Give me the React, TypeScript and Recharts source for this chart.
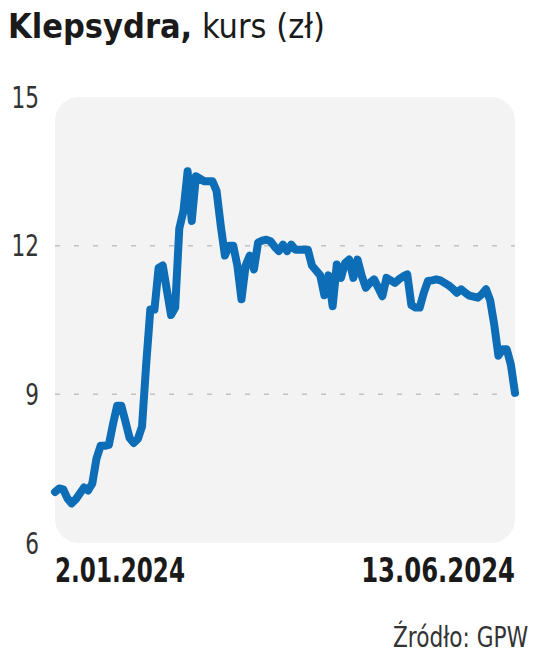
import { LineChart, Line, XAxis, YAxis, ReferenceArea, ReferenceLine } from "recharts";

// daily close, 2.01.2024 .. 13.06.2024
const prices = [
  7.03, 7.1, 7.08, 6.9, 6.8, 6.88, 7.0, 7.12, 7.06, 7.2,
  7.7, 7.96, 7.96, 7.98, 8.4, 8.77, 8.77, 8.45, 8.12, 8.02,
  8.1, 8.35, 9.6, 10.71, 10.71, 11.55, 11.6, 11.1, 10.6, 10.75,
  12.35, 12.7, 13.5, 12.5, 13.4, 13.35, 13.3, 13.3, 13.3, 13.1,
  12.4, 11.8, 12.0, 12.0, 11.6, 10.92, 11.6, 11.8, 11.52, 12.06,
  12.1, 12.12, 12.09, 11.98, 11.89, 12.02, 11.89, 12.02, 11.92, 11.92,
  11.92, 11.92, 11.6, 11.5, 11.4, 11.0, 11.4, 10.78, 11.62, 11.35,
  11.65, 11.72, 11.35, 11.72, 11.4, 11.15, 11.25, 11.32, 11.15, 10.98,
  11.35, 11.3, 11.25, 11.32, 11.38, 11.42, 10.8, 10.75, 10.75, 11.05,
  11.29, 11.3, 11.32, 11.3, 11.25, 11.2, 11.13, 11.05, 11.12, 11.05,
  10.99, 10.97, 10.95, 11.02, 11.12, 10.9, 10.4, 9.78, 9.91, 9.91,
  9.6, 9.03,
];
const dateLabels = ["2.01.2024", "13.06.2024"];
const yTicks = [6, 9, 12, 15];
const gridValues = [9, 12];

const data = prices.map((v, i) => ({ i, v }));
const lastIdx = prices.length - 1;

const cond = "'DejaVu Sans Condensed', sans-serif";

// the original uses a narrow DIN-like face, so squeeze the glyphs horizontally
const DateTick = (props: any) => {
  const { x, y, payload } = props;
  const first = payload.value === 0;
  const label = first ? dateLabels[0] : dateLabels[1];
  return (
    <g transform={`translate(${x},${y + 39}) scale(${first ? 0.755 : 0.795},1)`}>
      <text
        x={0}
        y={0}
        textAnchor={first ? "start" : "end"}
        fill="#1a1a1a"
        fontSize={34}
        fontWeight="bold"
        fontFamily={cond}
      >
        {label}
      </text>
    </g>
  );
};

const PriceTick = (props: any) => {
  const { x, y, payload } = props;
  return (
    <g transform={`translate(${x},${y}) scale(0.8,1)`}>
      <text x={0} y={0} dy="0.36em" textAnchor="end" fill="#333" fontSize={30} fontFamily={cond}>
        {payload.value}
      </text>
    </g>
  );
};

export default function App() {
  return (
    <div style={{ position: "absolute", left: 0, top: 0, width: 536, height: 659, background: "#fff", overflow: "hidden" }}>
      <div
        style={{
          position: "absolute",
          left: 8,
          top: 9,
          fontFamily: cond,
          fontSize: 34,
          lineHeight: "34px",
          color: "#1a1a1a",
          whiteSpace: "nowrap",
        }}
      >
        <span style={{ fontWeight: "bold" }}>Klepsydra,</span> <span>kurs (zł)</span>
      </div>

      <LineChart
        width={536}
        height={600}
        data={data}
        margin={{ top: 97, right: 21, bottom: 7, left: 10 }}
        style={{ position: "absolute", left: 0, top: 0 }}
      >
        <XAxis
          type="number"
          dataKey="i"
          domain={[0, lastIdx]}
          ticks={[0, lastIdx]}
          axisLine={false}
          tickLine={false}
          tickSize={0}
          tickMargin={0}
          height={50}
          tick={<DateTick />}
          interval={0}
        />
        <YAxis
          domain={[6, 15]}
          ticks={yTicks}
          width={45}
          axisLine={false}
          tickLine={false}
          tickMargin={10}
          tick={<PriceTick />}
          interval={0}
        />
        <ReferenceArea
          x1={0}
          x2={lastIdx}
          y1={6}
          y2={15}
          fill="#f3f3f3"
          fillOpacity={1}
          stroke="none"
          radius={24}
          ifOverflow="visible"
        />
        {gridValues.map((g) => (
          <ReferenceLine key={g} y={g} stroke="#c2c2c2" strokeWidth={1.5} strokeDasharray="5 14" />
        ))}
        <Line
          type="linear"
          dataKey="v"
          stroke="#0d6db6"
          strokeWidth={8}
          strokeLinejoin="round"
          strokeLinecap="round"
          dot={false}
          activeDot={false}
          isAnimationActive={false}
        />
      </LineChart>

      <div
        style={{
          position: "absolute",
          right: 8,
          top: 622,
          fontFamily: cond,
          fontSize: 28,
          lineHeight: "32px",
          color: "#333",
          whiteSpace: "nowrap",
          transform: "scaleX(0.86)",
          transformOrigin: "right center",
        }}
      >
        Źródło: GPW
      </div>
    </div>
  );
}
